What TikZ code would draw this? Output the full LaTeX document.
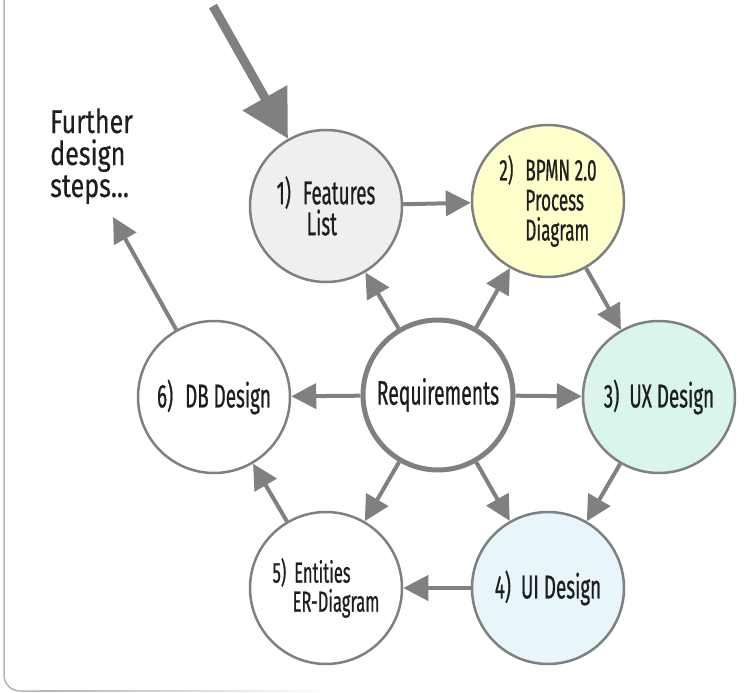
\documentclass[tikz,border=0pt]{standalone}
\usepackage{fontspec}
\setmainfont{Fira Sans}[FakeStretch=0.57,FakeBold=0.6]
\newfontfamily\furtherfont{Fira Sans}[FakeStretch=0.76,FakeBold=0.4]
\usetikzlibrary{arrows.meta}
\definecolor{lc}{HTML}{808080}
\definecolor{framec}{HTML}{B4B4B4}
\definecolor{txt}{HTML}{1E1E1E}
\definecolor{fillA}{HTML}{EFEFEF}
\definecolor{fillB}{HTML}{FFFFCC}
\definecolor{fillC}{HTML}{D9F5EC}
\definecolor{fillD}{HTML}{E8F5FA}
\begin{document}
\begin{tikzpicture}[x=1pt,y=-1pt,
  circ/.style={circle, draw=lc, line width=2.5pt, minimum size=152pt, inner sep=0pt,
    align=left, text=txt, font=\fontsize{33}{31}\selectfont},
  arr/.style={draw=lc, line width=4pt, -{Triangle[length=25pt,width=25pt]}},
  bigarr/.style={draw=lc, line width=9pt, -{Triangle[length=47pt,width=49pt]}},
]
\useasboundingbox (0,0) rectangle (750,693);
% frame
\draw[framec, line width=1.5pt, rounded corners=16pt] (4,-2) -- (4,691) -- (40,691);
\shade[left color=framec, right color=white] (39.5,690.25) rectangle (330,691.75);

% nodes
\node[circ, line width=5pt, minimum size=150pt, fill=white, font=\fontsize{34}{30}\selectfont] (req) at (438,395) {Requirements};
\node[circ, fill=fillA] (f1) at (326,206) {1)\hspace{12pt}Features\\\hspace*{30pt}List};
\node[circ, fill=fillB, yshift=5pt, font=\fontsize{30}{30}\selectfont] (f2) at (548,206) {2)\hspace{12pt}BPMN 2.0\\\hspace*{26pt}Process\\\hspace*{26pt}Diagram};
\node[circ, fill=fillC] (f3) at (659,397) {3)\hspace{10pt}UX Design};
\node[circ, fill=fillD] (f4) at (548,588) {4)\hspace{10pt}UI Design};
\node[circ, fill=white, font=\fontsize{29}{29}\selectfont] (f5) at (326,588) {5)\hspace{8pt}Entities\\\hspace*{20pt}ER-Diagram};
\node[circ, fill=white] (f6) at (214,397) {6)\hspace{12pt}DB Design};
\node[anchor=base west, align=left, inner sep=0pt, text=txt,
  font=\furtherfont\fontsize{33}{32}\selectfont] (further) at (50,197) {Further\\design\\steps...};
\coordinate (ft) at (113,217);
\coordinate (bigstart) at (213,6);

% connectors
\draw[bigarr] (bigstart) -- (f1);
\draw[arr] (f1) -- (f2);
\draw[arr] (f2) -- (f3);
\draw[arr] (f3) -- (f4);
\draw[arr] (f4) -- (f5);
\draw[arr] (f5) -- (f6);
\draw[arr] (f6) -- (ft);
\foreach \t in {f1,f2,f3,f4,f5,f6} \draw[arr] (req) -- (\t);
\end{tikzpicture}
\end{document}
